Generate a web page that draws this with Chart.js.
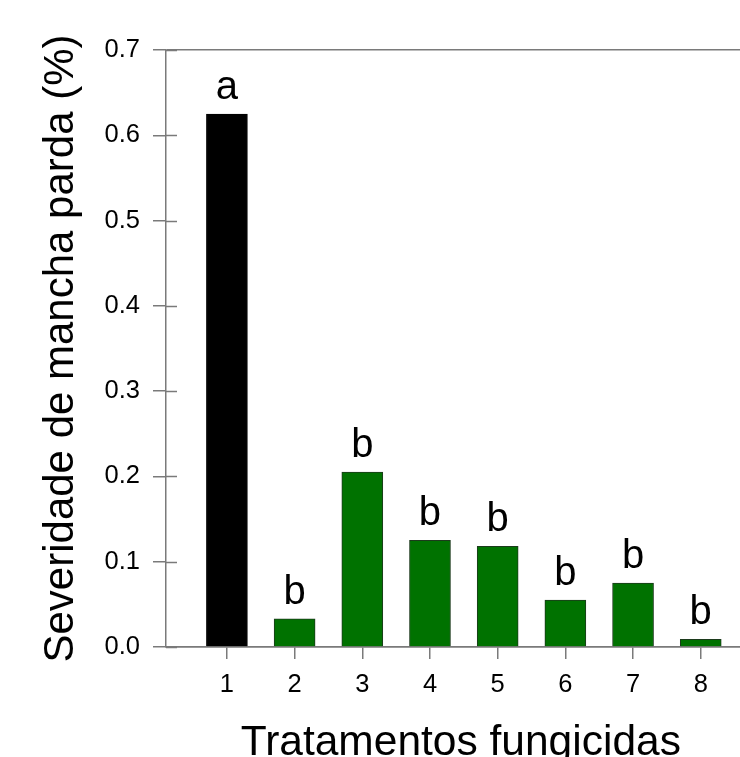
<!DOCTYPE html>
<html>
<head>
<meta charset="utf-8">
<script src="https://cdn.jsdelivr.net/npm/chart.js@4"></script>
<style>
  html, body { margin: 0; padding: 0; background: #ffffff; }
  #wrap { width: 740px; height: 757px; }
</style>
</head>
<body>
<div id="wrap"><canvas id="chart" width="740" height="757"></canvas></div>
<script>
// Treatment numbers, mean severity (%) and Tukey letters
const treatments = [1, 2, 3, 4, 5, 6, 7, 8];
const severity = [0.625, 0.033, 0.205, 0.125, 0.118, 0.055, 0.075, 0.009];
const letters = ['a', 'b', 'b', 'b', 'b', 'b', 'b', 'b'];
const yTicks = [0, 0.1, 0.2, 0.3, 0.4, 0.5, 0.6, 0.7];

const FONT = "'Liberation Sans', Arial, Helvetica, sans-serif";
const AXIS = '#7a7a7a';
const GREEN = '#007200';

// Letters above each bar
const letterPlugin = {
  id: 'letters',
  afterDatasetsDraw(chart) {
    const ctx = chart.ctx;
    const meta = chart.getDatasetMeta(0);
    ctx.save();
    ctx.fillStyle = '#000';
    ctx.font = '40px ' + FONT;
    ctx.textAlign = 'center';
    ctx.textBaseline = 'alphabetic';
    meta.data.forEach((bar, i) => {
      ctx.fillText(letters[i], bar.x, bar.y - 15);
    });
    ctx.restore();
  }
};

// Short inward tick marks on the y axis and the x-axis title
const axisExtras = {
  id: 'axisExtras',
  afterDraw(chart) {
    const ctx = chart.ctx;
    const y = chart.scales.y;
    const x = chart.scales.x;
    const left = chart.chartArea.left;
    ctx.save();
    ctx.strokeStyle = AXIS;
    ctx.lineWidth = 1.5;
    yTicks.forEach(v => {
      const py = Math.round(y.getPixelForValue(v)) + 0.5;
      ctx.beginPath();
      ctx.moveTo(left, py);
      ctx.lineTo(left + 11, py);
      ctx.stroke();
    });
    const cx = (x.getPixelForValue(treatments[0]) + x.getPixelForValue(treatments[treatments.length - 1])) / 2;
    ctx.fillStyle = '#000';
    ctx.font = '42.5px ' + FONT;
    ctx.textAlign = 'center';
    ctx.textBaseline = 'alphabetic';
    ctx.fillText('Tratamentos fungicidas', cx - 3, 755);
    ctx.restore();
  }
};

new Chart(document.getElementById('chart'), {
  type: 'bar',
  data: {
    datasets: [{
      data: treatments.map((t, i) => ({ x: t, y: severity[i] })),
      backgroundColor: treatments.map((t, i) => i === 0 ? '#000000' : GREEN),
      borderColor: treatments.map((t, i) => i === 0 ? '#000000' : '#1c3a1c'),
      borderWidth: 1,
      barThickness: 41
    }]
  },
  options: {
    responsive: false,
    animation: false,
    layout: { padding: { top: 50, right: 0, left: 0, bottom: 0 } },
    plugins: {
      legend: { display: false },
      tooltip: { enabled: false }
    },
    scales: {
      x: {
        type: 'linear',
        min: 0.1,
        max: 8.58,
        offset: false,
        afterBuildTicks: scale => { scale.ticks = treatments.map(v => ({ value: v })); },
        afterFit: scale => { scale.height = 110; },
        ticks: {
          color: '#000',
          font: { family: FONT, size: 25.5 },
          padding: 11,
          maxRotation: 0,
          autoSkip: false
        },
        grid: {
          offset: false,
          drawOnChartArea: false,
          tickLength: 12,
          tickColor: AXIS,
          color: AXIS,
          lineWidth: 1.5
        },
        border: { display: true, color: AXIS, width: 1.5 }
      },
      y: {
        min: 0,
        max: 0.7,
        afterBuildTicks: scale => { scale.ticks = yTicks.map(v => ({ value: v })); },
        afterFit: scale => { scale.width = 166; },
        ticks: {
          color: '#000',
          font: { family: FONT, size: 25.5 },
          padding: 13,
          callback: v => Number(v).toFixed(1)
        },
        grid: {
          drawOnChartArea: true,
          tickLength: 13,
          tickColor: AXIS,
          lineWidth: 1.5,
          color: ctx => (ctx.tick && (Math.abs(ctx.tick.value) < 1e-9 || Math.abs(ctx.tick.value - 0.7) < 1e-9)) ? AXIS : 'rgba(0,0,0,0)'
        },
        border: { display: true, color: AXIS, width: 1.5 },
        title: {
          display: true,
          text: 'Severidade de mancha parda (%)',
          color: '#000',
          font: { family: FONT, size: 42 },
          padding: { top: 36, bottom: 0 }
        }
      }
    }
  },
  plugins: [letterPlugin, axisExtras]
});
</script>
</body>
</html>
